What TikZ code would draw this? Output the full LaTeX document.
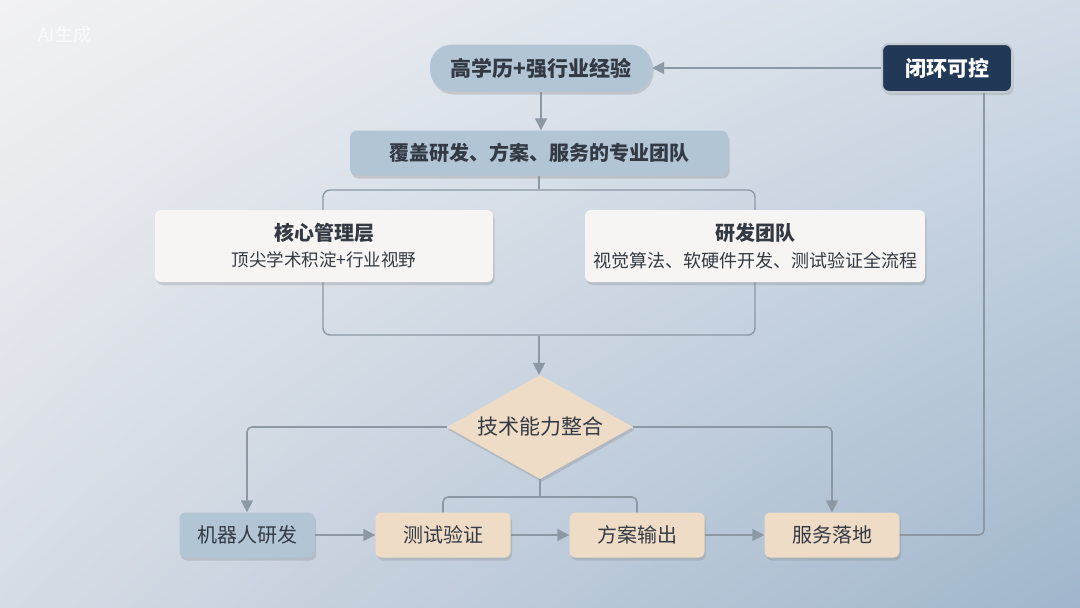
\documentclass[tikz,border=0pt]{standalone}
\usepackage{fontspec}
\setmainfont{Noto Sans CJK SC}
\usetikzlibrary{arrows.meta,positioning,shapes.geometric,shadows,shadings}
\definecolor{BgTL}{RGB}{242,242,244}
\definecolor{BgTR}{RGB}{210,220,231}
\definecolor{BgBL}{RGB}{214,220,229}
\definecolor{BgBR}{RGB}{160,182,204}
\definecolor{TeamBlue}{RGB}{178,197,213}
\definecolor{TeamBeige}{RGB}{238,220,198}
\definecolor{TeamWhite}{RGB}{246,245,243}
\definecolor{TeamNavy}{RGB}{33,56,86}
\definecolor{TeamSilver}{RGB}{196,202,208}
\definecolor{TeamText}{RGB}{52,58,68}
\definecolor{TeamLine}{RGB}{140,152,164}

\tikzset{
  box/.style={draw=none, text=TeamText, inner sep=0pt,
    drop shadow={opacity=0.28, shadow xshift=1.5pt, shadow yshift=-3pt}},
  bluebox/.style={box, fill=TeamBlue, rounded corners=6pt, minimum width=135pt, minimum height=45pt, font=\fontsize{20}{24}\selectfont},
  beigebox/.style={box, fill=TeamBeige, rounded corners=6pt, minimum width=135pt, minimum height=45pt, font=\fontsize{20}{24}\selectfont},
  whitebox/.style={box, fill=TeamWhite, rounded corners=6pt, minimum width=338pt, minimum height=72pt, align=center},
  conn/.style={draw=TeamLine, line width=1.6pt, rounded corners=5pt},
  arrow/.style={conn, -{Triangle[length=12pt,width=12pt]}}
}

\begin{document}
\begin{tikzpicture}[x=1pt, y=-1pt]
  % background
  \shade[upper left=BgTL, upper right=BgTR, lower left=BgBL, lower right=BgBR] (0,0) rectangle (1080,608);
  \useasboundingbox (0,0) rectangle (1080,608);
  \node[text=white, opacity=0.7, font=\fontsize{18}{20}\selectfont] (mark) at (65,35) {AI生成};

  % top
  \node[box, fill=TeamBlue, rounded corners=22pt, minimum width=222pt, minimum height=47pt, font=\fontsize{21}{25}\selectfont\bfseries] (edu) at (541,68) {高学历+强行业经验};
  \node[box, fill=TeamNavy, draw=TeamSilver, line width=2pt, rounded corners=7pt, minimum width=130pt, minimum height=48pt, text=white, font=\fontsize{21}{25}\selectfont\bfseries] (loop) at (947,68) {闭环可控};
  \node[box, fill=TeamBlue, rounded corners=7pt, minimum width=378pt, minimum height=45pt, font=\fontsize{20}{24}\selectfont\bfseries] (team) at (539,153) {覆盖研发、方案、服务的专业团队};

  % group
  \node[draw=TeamLine, line width=1.4pt, rounded corners=7pt, minimum width=432pt, minimum height=145pt, inner sep=0pt] (grp) at (539,262.5) {};
  \node[whitebox] (mgmt) at (324,246) {{\fontsize{20}{24}\selectfont\bfseries 核心管理层}\\[8pt]{\fontsize{17.5}{21}\selectfont 顶尖学术积淀+行业视野}};
  \node[whitebox, minimum width=340pt] (rnd) at (755,246) {{\fontsize{20}{24}\selectfont\bfseries 研发团队}\\[8pt]{\fontsize{18}{21}\selectfont 视觉算法、软硬件开发、测试验证全流程}};

  % diamond
  \node[box, diamond, aspect=1.8, fill=TeamBeige, minimum width=186pt, minimum height=104pt, font=\fontsize{21}{25}\selectfont] (tech) at (540,427) {技术能力整合};

  % bottom row
  \node[bluebox] (robot) at (247,535) {机器人研发};
  \node[beigebox] (test) at (443,535) {测试验证};
  \node[beigebox] (plan) at (637,535) {方案输出};
  \node[beigebox] (serve) at (832,535) {服务落地};
  \coordinate (split) at (540,497);

  % connectors
  \draw[arrow] (loop.west) -- (edu.east);
  \draw[arrow] (edu.south) -- (edu.south |- team.north);
  \draw[conn] (team.south) -- (team.south |- grp.north);
  \draw[arrow] (grp.south) -- (grp.south |- tech.north);
  \draw[arrow] (tech.west) -| (robot.north);
  \draw[arrow] (tech.east) -| (serve.north);
  \draw[conn] (tech.south) -- (split);
  \draw[conn] (test.north) |- (split) -| (plan.north);
  \draw[arrow] (robot.east) -- (test.west);
  \draw[arrow] (test.east) -- (plan.west);
  \draw[arrow] (plan.east) -- (serve.west);
  \draw[conn] (serve.east) -| ([xshift=37pt]loop.south);
\end{tikzpicture}
\end{document}
